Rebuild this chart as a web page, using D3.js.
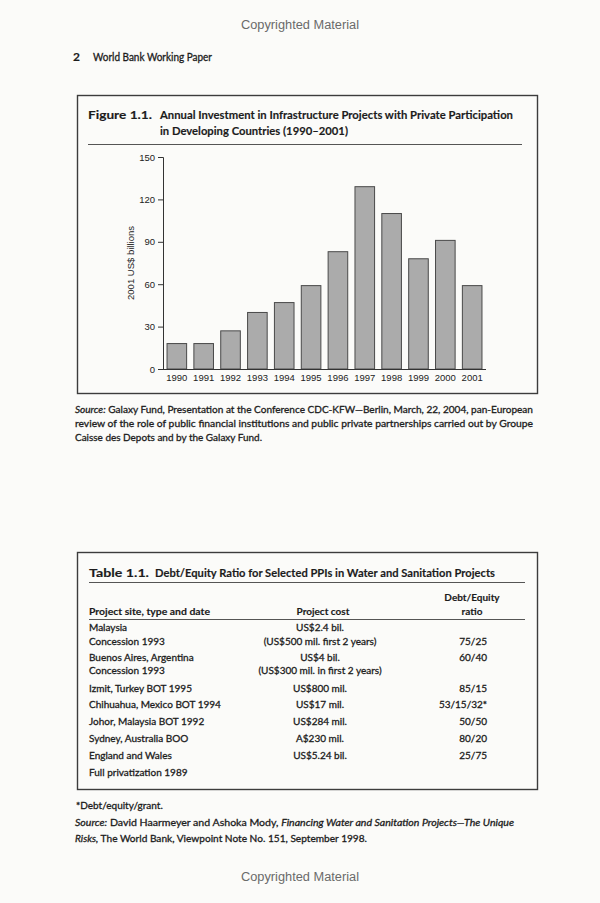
<!DOCTYPE html>
<html><head><meta charset="utf-8">
<script src="https://cdn.jsdelivr.net/npm/d3@7/dist/d3.min.js"></script>
<style>
html,body{margin:0;padding:0;background:#fbfbf9;}
svg{display:block;}
</style></head>
<body>
<script>
// ---- data ----
const years = ["1990","1991","1992","1993","1994","1995","1996","1997","1998","1999","2000","2001"];
const investment = [18, 18, 27, 40, 47, 59, 83, 129, 110, 78, 91, 59];
const yTicks = [0, 30, 60, 90, 120, 150];

const tableSites = ["Malaysia","Concession 1993","Buenos Aires, Argentina","Concession 1993","Izmit, Turkey BOT 1995","Chihuahua, Mexico BOT 1994","Johor, Malaysia BOT 1992","Sydney, Australia BOO","England and Wales","Full privatization 1989"];
const tableCosts = ["US$2.4 bil.","(US$500 mil. first 2 years)","US$4 bil.","(US$300 mil. in first 2 years)","US$800 mil.","US$17 mil.","US$284 mil.","A$230 mil.","US$5.24 bil.",""];
const tableRatios = ["","75/25","60/40","","85/15","53/15/32*","50/50","80/20","25/75",""];

// ---- layout ----
const W = 600, H = 903;
const svg = d3.select("body").append("svg").attr("width", W).attr("height", H);
const bookFont = "Lato, 'Open Sans', sans-serif";
const chartFont = "'Liberation Sans', Arial, sans-serif";
const ink = "#1c1c1c";

function txt(x, y, s, opts = {}) {
  const t = svg.append("text").attr("x", x).attr("y", y)
    .attr("font-family", opts.family || bookFont)
    .attr("font-size", opts.size || 10)
    .attr("font-weight", opts.weight || "normal")
    .attr("font-style", opts.style || "normal")
    .attr("fill", opts.fill || ink)
    .attr("stroke", opts.family ? null : ink)
    .attr("stroke-width", opts.family ? null : (opts.weight === "bold" ? 0.15 : 0.3))
    .attr("text-anchor", opts.anchor || "start");
  if (Array.isArray(s)) {
    s.forEach(p => t.append("tspan").attr("font-style", p.i ? "italic" : null).text(p.t));
  } else t.text(s);
  if (opts.width) t.attr("textLength", opts.width).attr("lengthAdjust", "spacingAndGlyphs");
  return t;
}

// page header
txt(300, 29, "Copyrighted Material", {family: chartFont, size: 12, fill: "#6a6a6a", anchor: "middle", width: 118});
txt(73, 61, "2", {size: 12, weight: "bold"});
txt(93, 61, "World Bank Working Paper", {size: 10.5, width: 119});

// figure box
svg.append("rect").attr("x", 77.5).attr("y", 95.5).attr("width", 460).attr("height", 298)
  .attr("fill", "none").attr("stroke", "#3c3c3c").attr("stroke-width", 1.4);
txt(88, 119, "Figure 1.1.", {size: 12, weight: "bold", width: 64});
txt(160, 119, "Annual Investment in Infrastructure Projects with Private Participation", {size: 12, weight: "bold", width: 353});
txt(160, 135, "in Developing Countries (1990–2001)", {size: 12, weight: "bold", width: 188});
svg.append("line").attr("x1", 88).attr("x2", 522).attr("y1", 144.5).attr("y2", 144.5)
  .attr("stroke", "#555").attr("stroke-width", 1);

// chart
const x = d3.scaleBand().domain(years).range([163, 486]).paddingInner(0.27).paddingOuter(0.15);
const y = d3.scaleLinear().domain([0, 150]).range([369, 157]);
const g = svg.append("g");

g.selectAll("rect.bar").data(investment).join("rect").attr("class", "bar")
  .attr("x", (d, i) => x(years[i])).attr("width", x.bandwidth())
  .attr("y", d => y(d)).attr("height", d => y(0) - y(d))
  .attr("fill", "#ababab").attr("stroke", "#4a4a4a").attr("stroke-width", 1);

const yAxis = g.append("g").attr("transform", "translate(163,0)")
  .call(d3.axisLeft(y).tickValues(yTicks).tickSize(5).tickPadding(3));
yAxis.select(".domain").attr("stroke", "#333");
yAxis.selectAll("line").attr("stroke", "#333");
yAxis.selectAll("text").attr("font-family", chartFont).attr("font-size", 9.5).attr("fill", "#222");

const xAxis = g.append("g").attr("transform", "translate(0,369)")
  .call(d3.axisBottom(x).tickSize(0).tickPadding(5));
xAxis.select(".domain").attr("stroke", "#333").attr("d", "M163,0.5H486");
xAxis.selectAll("text").attr("font-family", chartFont).attr("font-size", 9.5).attr("fill", "#222");

txt(0, 0, "2001 US$ billions", {family: chartFont, size: 9.5, anchor: "middle", fill: "#222"})
  .attr("transform", "translate(134,263) rotate(-90)");

// figure source
txt(75, 413, [{t: "Source:", i: true}, {t: "  Galaxy Fund, Presentation at the Conference CDC-KFW—Berlin, March, 22, 2004, pan-European"}], {size: 10, width: 458});
txt(75, 427, "review of the role of public financial institutions and public private partnerships carried out by Groupe", {size: 10, width: 458});
txt(75, 441, "Caisse des Depots and by the Galaxy Fund.", {size: 10, width: 187});

// table box
svg.append("rect").attr("x", 77.5).attr("y", 552.5).attr("width", 460).attr("height", 237)
  .attr("fill", "none").attr("stroke", "#3c3c3c").attr("stroke-width", 1.4);
txt(89, 577, "Table 1.1.", {size: 12, weight: "bold", width: 60});
txt(155, 577, "Debt/Equity Ratio for Selected PPIs in Water and Sanitation Projects", {size: 12, weight: "bold", width: 340});
svg.append("line").attr("x1", 89).attr("x2", 525).attr("y1", 582.5).attr("y2", 582.5).attr("stroke", "#555");

txt(472, 601, "Debt/Equity", {size: 10, weight: "bold", anchor: "middle"});
txt(472, 615, "ratio", {size: 10, weight: "bold", anchor: "middle"});
txt(89, 615, "Project site, type and date", {size: 10, weight: "bold", width: 121});
txt(323, 615, "Project cost", {size: 10, weight: "bold", anchor: "middle"});
svg.append("line").attr("x1", 89).attr("x2", 525).attr("y1", 619.5).attr("y2", 619.5).attr("stroke", "#555");

const lineY = [631, 645, 661, 674, 692, 708, 725, 742, 759, 776];
tableSites.forEach((s, i) => {
  txt(89, lineY[i], s, {size: 10});
  if (tableCosts[i]) txt(320, lineY[i], tableCosts[i], {size: 10, anchor: "middle"});
  if (tableRatios[i]) txt(487, lineY[i], tableRatios[i], {size: 10, anchor: "end"});
});

// table notes
txt(76, 809, "*Debt/equity/grant.", {size: 10});
txt(75, 826, [{t: "Source:", i: true}, {t: " David Haarmeyer and Ashoka Mody, "}, {t: "Financing Water and Sanitation Projects—The Unique", i: true}], {size: 10, width: 439});
txt(75, 842, [{t: "Risks,", i: true}, {t: " The World Bank, Viewpoint Note No. 151, September 1998."}], {size: 10, width: 292});

txt(300, 881, "Copyrighted Material", {family: chartFont, size: 12, fill: "#6a6a6a", anchor: "middle", width: 118});
</script>
</body></html>
